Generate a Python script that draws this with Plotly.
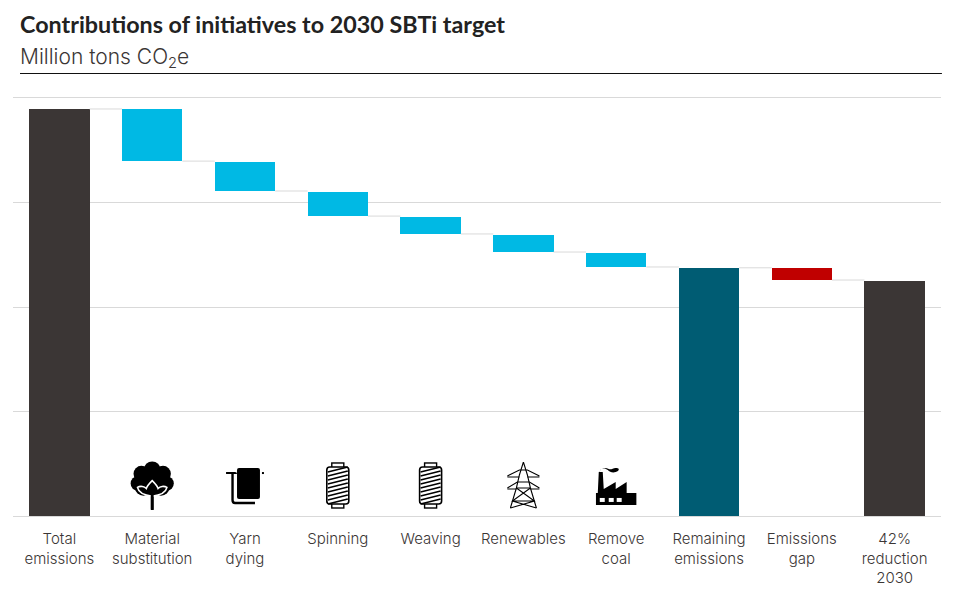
import base64
import plotly.graph_objects as go

categories = ["Total<br>emissions", "Material<br>substitution", "Yarn<br>dying", "Spinning", "Weaving",
              "Renewables", "Remove<br>coal", "Remaining<br>emissions", "Emissions<br>gap", "42%<br>reduction<br>2030"]
totals = {0: 389.5, 7: 237.5, 9: 224.9}
reductions = {1: 49.9, 2: 28.6, 3: 24.0, 4: 17.1, 5: 17.3, 6: 14.3, 8: 11.7}
colors = ["#3b3635", "#00b9e4", "#00b9e4", "#00b9e4", "#00b9e4", "#00b9e4", "#00b9e4", "#005c73", "#c00000", "#3b3635"]
grid_values = [0, 100, 200, 300, 400]
BAR_W = 0.65
GAP = 0.96
TXT = "#3b3635"
GRID = "#d9d9d9"

# Running levels for the waterfall
base, height, level_after = [], [], []
level = 0.0
for i in range(len(categories)):
    if i in totals:
        level = totals[i]
        base.append(0)
        height.append(level)
    else:
        top = level - GAP if i > 1 and i != 8 else level
        level -= reductions[i]
        base.append(level)
        height.append(top - level)
    level_after.append(level)

cx, cy = [], []
for i in range(len(categories) - 1):
    cx += [i + BAR_W / 2, i + 1 - BAR_W / 2, None]
    cy += [level_after[i], level_after[i], None]

fig = go.Figure()
fig.add_trace(go.Scatter(x=cx, y=cy, mode="lines", line=dict(color=GRID, width=1), hoverinfo="skip", showlegend=False))
fig.add_trace(go.Bar(x=list(range(len(categories))), y=height, base=base, width=BAR_W,
                     marker=dict(color=colors, line=dict(width=0)), showlegend=False))


def svg_uri(w, h, body):
    s = f'<svg xmlns="http://www.w3.org/2000/svg" viewBox="0 0 {w} {h}" width="{w*4}" height="{h*4}">{body}</svg>'
    return "data:image/svg+xml;base64," + base64.b64encode(s.encode()).decode()


cotton = svg_uri(44, 50, (
    '<g fill="#000"><circle cx="22" cy="9" r="8.5"/><circle cx="11" cy="13" r="8"/><circle cx="33" cy="13" r="8"/>'
    '<circle cx="7.5" cy="23" r="7.5"/><circle cx="36.5" cy="23" r="7.5"/><circle cx="22" cy="22" r="14"/>'
    '<circle cx="13" cy="27" r="8.5"/><circle cx="31" cy="27" r="8.5"/><rect x="20.6" y="30" width="2.8" height="20" rx="1"/></g>'
    '<path d="M7 27 C10 25 14 26 16 28 C17 25 19 23 22 20 C25 23 27 25 28 28 C30 26 34 25 37 27 C36 32 30 35 22 36 C14 35 8 32 7 27 Z" '
    'fill="#000" stroke="#fff" stroke-width="1.6"/><rect x="20.6" y="31" width="2.8" height="19" fill="#000"/>'))
towel = svg_uri(40, 38, (
    '<rect x="12" y="1" width="23" height="31" rx="2" fill="#000"/>'
    '<path d="M1 6 H10 Q11 6 11 7" stroke="#000" stroke-width="2" fill="none"/>'
    '<path d="M7.5 6 V33 Q7.5 36 10 36 H30" stroke="#000" stroke-width="2.4" fill="none"/>'
    '<rect x="37" y="5" width="2" height="2" fill="#000"/>'))
_stripes = "".join(f'<path d="M2 {y} L22 {y-5}" stroke="#000" stroke-width="1.5"/>' for y in (10, 14, 18, 22, 26, 30, 34, 38, 42))
spool = svg_uri(24, 47, (
    '<rect x="6" y="1" width="12" height="5" fill="none" stroke="#000" stroke-width="1.4"/>'
    '<rect x="6" y="41" width="12" height="5" fill="none" stroke="#000" stroke-width="1.4"/>'
    '<rect x="1" y="5" width="22" height="37" rx="3" fill="#fff" stroke="#000" stroke-width="1.6"/>' + _stripes))
pylon = svg_uri(34, 47, (
    '<g fill="none" stroke="#000" stroke-width="1.1">'
    '<path d="M17 0 L13 13 L10 26 L4 46 M17 0 L21 13 L24 26 L30 46"/>'
    '<path d="M1 14 L13 8 L21 8 L33 14 M1 15 H13 M21 15 H33 M1 26 L11 20 L23 20 L33 26 M10 26 H24 M1 27 H10 M24 27 H33"/>'
    '<path d="M10 26 L28 39 L4 46 M24 26 L6 39 L30 46 M6 39 H28"/></g>'))
factory = svg_uri(41, 38, (
    '<path d="M0 38 V26 H2 L3 5 H7 L8 22 L20 15 V22 L31 15 V26 H41 V38 Z" fill="#000"/>'
    '<rect x="4" y="31" width="5" height="4" fill="#fff"/><rect x="13" y="31" width="5" height="4" fill="#fff"/>'
    '<rect x="21" y="31" width="5" height="4" fill="#fff"/>'
    '<path d="M3 6 C4 1 9 0 12 3 C14 5 17 6 20 5 C24 4 24 1 21 1 C18 0 16 3 13 2 C9 0 5 1 3 6 Z" fill="#000"/>'))

# category index, bottom value, width (axis units), height (axis units), picture
icons = [(1, 5.7, 0.475, 47.0, cotton), (2, 10.5, 0.43, 36.4, towel), (3, 6.7, 0.27, 45.0, spool),
         (4, 6.7, 0.27, 45.0, spool), (5, 6.7, 0.37, 45.0, pylon), (6, 10.5, 0.44, 36.4, factory)]

images = [dict(source=src, xref="x", yref="y", x=i, y=b, sizex=sx, sizey=sy, xanchor="center", yanchor="bottom",
               sizing="contain", layer="above") for i, b, sx, sy, src in icons]

fig.update_layout(
    width=955, height=596, margin=dict(l=13, r=14, t=98, b=80, pad=0, autoexpand=False),
    paper_bgcolor="white", plot_bgcolor="white", font=dict(family="Inter, sans-serif", color=TXT, size=15),
    bargap=0, images=images,
    xaxis=dict(range=[-0.5, 9.5], tickmode="array", tickvals=list(range(10)), ticktext=categories, automargin=False,
               showgrid=False, zeroline=False, showline=True, mirror=True, linecolor=GRID, linewidth=1,
               ticks="outside", ticklen=9, tickcolor="rgba(0,0,0,0)", tickangle=0,
               tickfont=dict(size=15, color=TXT, weight=300)),
    yaxis=dict(range=[0, 400], tickmode="array", tickvals=grid_values, showticklabels=False, automargin=False,
               showgrid=True, gridcolor=GRID, gridwidth=1, zeroline=False, showline=False, ticks=""),
    shapes=[dict(type="line", xref="paper", yref="paper", x0=7 / 928, x1=1.001, y0=442.5 / 418, y1=442.5 / 418,
                 line=dict(color="#111111", width=1))],
    annotations=[
        dict(text="<b>Contributions of initiatives to 2030 SBTi target</b>", xref="paper", yref="paper",
             x=7 / 928, y=(516 - 24) / 418, xanchor="left", yanchor="middle", showarrow=False, xshift=-2,
             font=dict(family="Lato, sans-serif", size=23.3, color="#222222")),
        dict(text="Million tons CO<sub>2</sub>e", xref="paper", yref="paper",
             x=7 / 928, y=(516 - 58) / 418, xanchor="left", yanchor="middle", showarrow=False, xshift=-2,
             font=dict(size=21, color=TXT, weight=300)),
    ],
)

fig.write_html("out.html", config=dict(displayModeBar=False), post_script="document.body.style.margin='0';")
